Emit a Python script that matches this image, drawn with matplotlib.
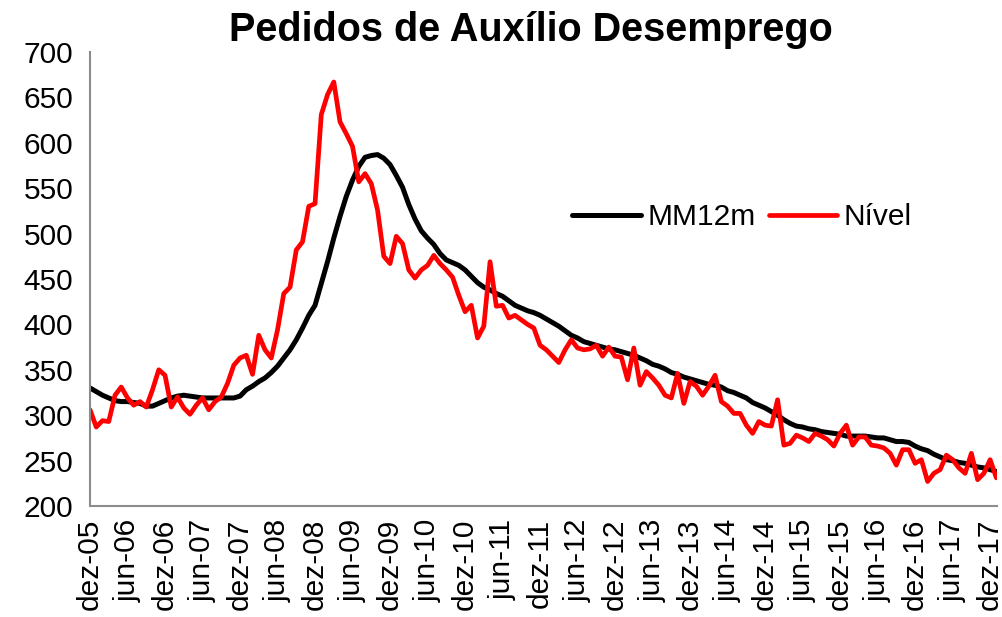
import numpy as np
import matplotlib
matplotlib.use("Agg")
import matplotlib.pyplot as plt

plt.rcParams['font.family'] = ['Liberation Sans', 'DejaVu Sans']

# Pedidos de auxílio desemprego (mil), mensal dez-05 .. jan-18
nivel = [306, 287, 294, 293, 322, 331, 319, 311, 315, 309, 328, 350,
         344, 309, 320, 308, 301, 311, 319, 306, 315, 320, 335, 355,
         363, 366, 345, 388, 372, 363, 394, 434, 441, 482, 491, 530,
         533, 631, 653, 667, 623, 610, 596, 557, 566, 555, 526, 475,
         467, 497, 489, 460, 451, 460, 465, 476, 467, 460, 452, 432,
         414, 421, 385, 398, 469, 420, 421, 407, 410, 405, 400, 396,
         377, 372, 365, 358, 372, 383, 374, 372, 373, 377, 365, 375,
         365, 364, 339, 374, 333, 348, 341, 333, 322, 319, 346, 313,
         337, 332, 322, 332, 344, 315, 310, 302, 302, 289, 280, 293,
         289, 288, 317, 267, 269, 278, 275, 271, 280, 277, 273, 266,
         280, 289, 267, 276, 276, 267, 266, 264, 258, 245, 262, 262,
         247, 251, 227, 236, 240, 256, 251, 242, 236, 258, 229, 236,
         251, 231]

mm12 = [330, 326, 322, 319, 316, 315, 315, 314, 313, 310, 310, 313,
        316, 319, 321, 322, 321, 320, 319, 319, 319, 319, 319, 319,
        321, 328, 332, 337, 341, 347, 354, 363, 372, 383, 396, 410,
        421, 445, 469, 495, 519, 541, 559, 574, 584, 586, 587, 583,
        576, 564, 551, 532, 516, 503, 495, 488, 478, 471, 468, 465,
        460, 453, 446, 441, 438, 434, 431, 426, 421, 418, 415, 413,
        410, 406, 402, 398, 393, 388, 385, 381, 379, 377, 375, 373,
        372, 370, 368, 366, 363, 360, 356, 354, 351, 347, 345, 342,
        340, 338, 336, 334, 333, 331, 327, 325, 322, 319, 314, 311,
        308, 304, 300, 295, 291, 288, 287, 285, 284, 282, 281, 280,
        279, 277, 277, 277, 277, 276, 275, 275, 273, 271, 271, 270,
        266, 263, 261, 257, 254, 251, 250, 248, 247, 245, 243, 242,
        240, 238]

rotulos = ["dez-05", "jun-06", "dez-06", "jun-07", "dez-07", "jun-08",
           "dez-08", "jun-09", "dez-09", "jun-10", "dez-10", "jun-11",
           "dez-11", "jun-12", "dez-12", "jun-13", "dez-13", "jun-14",
           "dez-14", "jun-15", "dez-15", "jun-16", "dez-16", "jun-17",
           "dez-17"]

meses = np.arange(len(nivel))

fig = plt.figure(figsize=(10.03, 6.17), dpi=100)
ax = fig.add_axes([90 / 1003, 1 - 506 / 617, 907 / 1003, 454 / 617])

ax.plot(meses, mm12, color="black", lw=3.6, label="MM12m", solid_capstyle="round")
ax.plot(meses, nivel, color="#ff0000", lw=3.4, label="Nível", solid_capstyle="round")

ax.set_ylim(200, 700)
ax.set_yticks(range(200, 701, 50))
ax.set_xlim(0, len(nivel) - 1 + 0.1)
ax.set_xticks(meses[::6])
ax.set_xticklabels(rotulos, rotation=90)

for lado in ["top", "right"]:
    ax.spines[lado].set_visible(False)
for lado in ["left", "bottom"]:
    ax.spines[lado].set_color("#8c8c8c")
    ax.spines[lado].set_linewidth(1.5)

ax.tick_params(axis="y", length=0, pad=12, labelsize=21.5)
ax.tick_params(axis="x", length=0, pad=9, labelsize=21.5)

fig.text(531 / 1003, 1 - 30 / 617, "Pedidos de Auxílio Desemprego",
         ha="center", va="center", fontsize=28.5, fontweight="bold")

fig.legend(loc="center", bbox_to_anchor=(742 / 1003, 1 - 217 / 617),
           ncol=2, frameon=False, fontsize=21.5, handlelength=2.3,
           handletextpad=0.2, columnspacing=0.45)

plt.savefig("out.png", dpi=100)
